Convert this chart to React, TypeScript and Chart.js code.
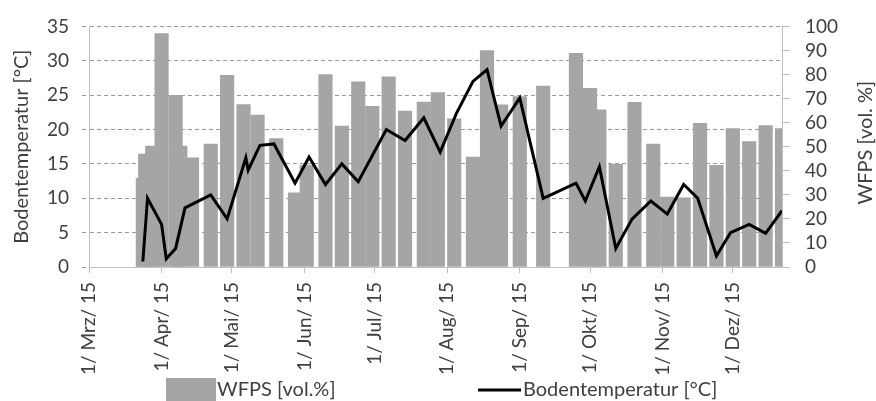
import React, { useEffect, useRef } from 'react';
import { Chart, registerables } from 'chart.js';

Chart.register(...registerables);

// X axis: month starts (tick positions) and their labels
const monthTicks = [
  '2015-03-01', '2015-04-01', '2015-05-01', '2015-06-01', '2015-07-01',
  '2015-08-01', '2015-09-01', '2015-10-01', '2015-11-01', '2015-12-01',
];
const monthLabels = [
  '1/ Mrz/ 15', '1/ Apr/ 15', '1/ Mai/ 15', '1/ Jun/ 15', '1/ Jul/ 15',
  '1/ Aug/ 15', '1/ Sep/ 15', '1/ Okt/ 15', '1/ Nov/ 15', '1/ Dez/ 15',
];
const axisStart = '2015-03-01';
const axisEnd = '2015-12-22';

// WFPS [vol.%] (bars, right axis)
const wfpsDates = [
  '2015-03-24', '2015-03-25', '2015-03-28', '2015-04-01', '2015-04-07', '2015-04-09',
  '2015-04-14', '2015-04-22', '2015-04-29', '2015-05-06', '2015-05-12', '2015-05-20',
  '2015-05-28', '2015-06-02', '2015-06-10', '2015-06-17', '2015-06-24', '2015-06-30',
  '2015-07-07', '2015-07-14', '2015-07-22', '2015-07-28', '2015-08-04', '2015-08-12',
  '2015-08-18', '2015-08-24', '2015-09-01', '2015-09-11', '2015-09-25', '2015-10-01',
  '2015-10-05', '2015-10-12', '2015-10-20', '2015-10-28', '2015-11-03', '2015-11-10',
  '2015-11-17', '2015-11-24', '2015-12-01', '2015-12-08', '2015-12-15', '2015-12-22',
];
const wfpsValues = [
  36.9, 46.9, 50.3, 97, 71.4, 50.3,
  45.4, 51.1, 79.7, 67.5, 63.1, 53.4,
  30.8, 42.4, 80, 58.6, 77, 66.8,
  79, 64.8, 68.5, 72.5, 61.6, 45.7,
  89.9, 67.4, 70.8, 75.2, 88.8, 74.3,
  65.3, 42.7, 68.4, 51.1, 29.1, 28.7,
  59.7, 42.3, 57.5, 52.1, 58.8, 57.5,
];

// Bodentemperatur [°C] (line, left axis)
const tempDates = [
  '2015-03-24', '2015-03-26', '2015-04-01', '2015-04-03', '2015-04-07', '2015-04-11',
  '2015-04-22', '2015-04-29', '2015-05-07', '2015-05-08', '2015-05-13', '2015-05-19',
  '2015-05-28', '2015-06-03', '2015-06-10', '2015-06-17', '2015-06-24', '2015-07-06',
  '2015-07-14', '2015-07-22', '2015-07-29', '2015-08-05', '2015-08-12', '2015-08-18',
  '2015-08-24', '2015-09-01', '2015-09-11', '2015-09-25', '2015-09-29', '2015-10-05',
  '2015-10-12', '2015-10-19', '2015-10-27', '2015-11-03', '2015-11-10', '2015-11-16',
  '2015-11-24', '2015-11-30', '2015-12-08', '2015-12-15', '2015-12-22',
];
const tempValues = [
  0.8, 10.0, 6.2, 1.2, 2.7, 8.6,
  10.5, 7.0, 15.9, 14.1, 17.7, 17.9,
  12.2, 16.0, 12.0, 15.0, 12.4, 20.0,
  18.4, 21.7, 16.7, 22.4, 27.0, 28.7,
  20.5, 24.6, 10.0, 12.2, 9.6, 14.6,
  2.7, 7.0, 9.6, 7.7, 12.0, 10.0,
  1.6, 5.0, 6.2, 4.9, 8.2,
];

const FONT = 'Lato';
const TEXT = '#404040';
const BAR = '#a5a5a5';

function dayOf(s: string): number {
  const [y, m, d] = s.split('-').map(Number);
  const [y0, m0, d0] = axisStart.split('-').map(Number);
  return Math.round((Date.UTC(y, m - 1, d) - Date.UTC(y0, m0 - 1, d0)) / 86400000);
}

export default function App() {
  const ref = useRef<HTMLCanvasElement | null>(null);

  useEffect(() => {
    const canvas = ref.current;
    if (!canvas) return;
    const tickDays = monthTicks.map(dayOf);

    const extras = {
      id: 'extras',
      afterDraw(chart: any) {
        const ctx = chart.ctx as CanvasRenderingContext2D;
        const area = chart.chartArea;
        ctx.save();
        ctx.font = `20px ${FONT}`;
        ctx.textBaseline = 'middle';
        // right axis title (reads bottom to top)
        ctx.save();
        ctx.fillStyle = TEXT;
        ctx.translate(area.right + 84, (area.top + area.bottom) / 2 - 4);
        ctx.rotate(-Math.PI / 2);
        ctx.textAlign = 'center';
        ctx.fillText('WFPS [vol. %]', 0, 0);
        ctx.restore();
        // legend
        const ly = 390;
        ctx.fillStyle = BAR;
        ctx.fillRect(166, 378, 50, 24);
        ctx.fillStyle = TEXT;
        ctx.textAlign = 'left';
        ctx.fillText('WFPS [vol.%]', 217, ly);
        ctx.strokeStyle = '#000000';
        ctx.lineWidth = 3;
        ctx.beginPath();
        ctx.moveTo(478, ly);
        ctx.lineTo(521, ly);
        ctx.stroke();
        ctx.fillText('Bodentemperatur [°C]', 523, ly);
        ctx.restore();
      },
    };

    const chart = new Chart(canvas, {
      type: 'bar',
      data: {
        datasets: [
          {
            type: 'line',
            label: 'Bodentemperatur [°C]',
            data: tempDates.map((d, i) => ({ x: dayOf(d), y: tempValues[i] })),
            yAxisID: 'yL',
            borderColor: '#000000',
            borderWidth: 3,
            pointRadius: 0,
            tension: 0,
            fill: false,
            order: 0,
          } as any,
          {
            type: 'bar',
            label: 'WFPS [vol.%]',
            data: wfpsDates.map((d, i) => ({ x: dayOf(d), y: wfpsValues[i] })),
            yAxisID: 'yR',
            backgroundColor: BAR,
            borderWidth: 0,
            barThickness: 13.5,
            order: 1,
          } as any,
        ],
      },
      options: {
        responsive: false,
        animation: false,
        devicePixelRatio: 1,
        layout: { padding: { top: 22, left: 0, right: 0, bottom: 0 } },
        plugins: { legend: { display: false }, tooltip: { enabled: false } },
        scales: {
          x: {
            type: 'linear',
            min: 0,
            max: dayOf(axisEnd),
            offset: false,
            afterBuildTicks: (s: any) => {
              s.ticks = tickDays.map((v) => ({ value: v }));
            },
            afterFit: (s: any) => {
              s.height = 134;
            },
            ticks: {
              autoSkip: false,
              minRotation: 90,
              maxRotation: 90,
              padding: 9,
              color: TEXT,
              font: { family: FONT, size: 19 },
              callback: (v: any) => {
                const i = tickDays.indexOf(Number(v));
                return i >= 0 ? monthLabels[i] : '';
              },
            },
            grid: { drawOnChartArea: false, drawTicks: true, tickLength: 6, color: '#bfbfbf', offset: false },
            border: { display: true, color: '#bfbfbf', width: 1 },
          },
          yL: {
            type: 'linear',
            position: 'left',
            min: 0,
            max: 35,
            afterFit: (s: any) => {
              s.width = 89;
            },
            ticks: { stepSize: 5, autoSkip: false, padding: 13, color: TEXT, font: { family: FONT, size: 19 } },
            grid: { color: '#9a9a9a', lineWidth: 1, tickLength: 7, tickBorderDash: [4, 3] },
            border: { display: true, color: '#bfbfbf', width: 1, dash: [4, 3] },
            title: {
              display: true,
              text: 'Bodentemperatur [°C]',
              color: TEXT,
              font: { family: FONT, size: 20 },
              padding: { top: 10, bottom: 0 },
            },
          },
          yR: {
            type: 'linear',
            position: 'right',
            min: 0,
            max: 100,
            afterFit: (s: any) => {
              s.width = 94;
            },
            ticks: { stepSize: 10, autoSkip: false, padding: 15, color: TEXT, font: { family: FONT, size: 19 } },
            grid: { drawOnChartArea: false, tickLength: 8, color: '#bfbfbf' },
            border: { display: true, color: '#bfbfbf', width: 1 },
          },
        },
      } as any,
      plugins: [extras],
    });

    return () => chart.destroy();
  }, []);

  return (
    <div style={{ position: 'absolute', left: 0, top: 0, width: 876, height: 401, background: '#ffffff' }}>
      <canvas ref={ref} width={876} height={401} style={{ width: 876, height: 401, display: 'block' }} />
    </div>
  );
}
